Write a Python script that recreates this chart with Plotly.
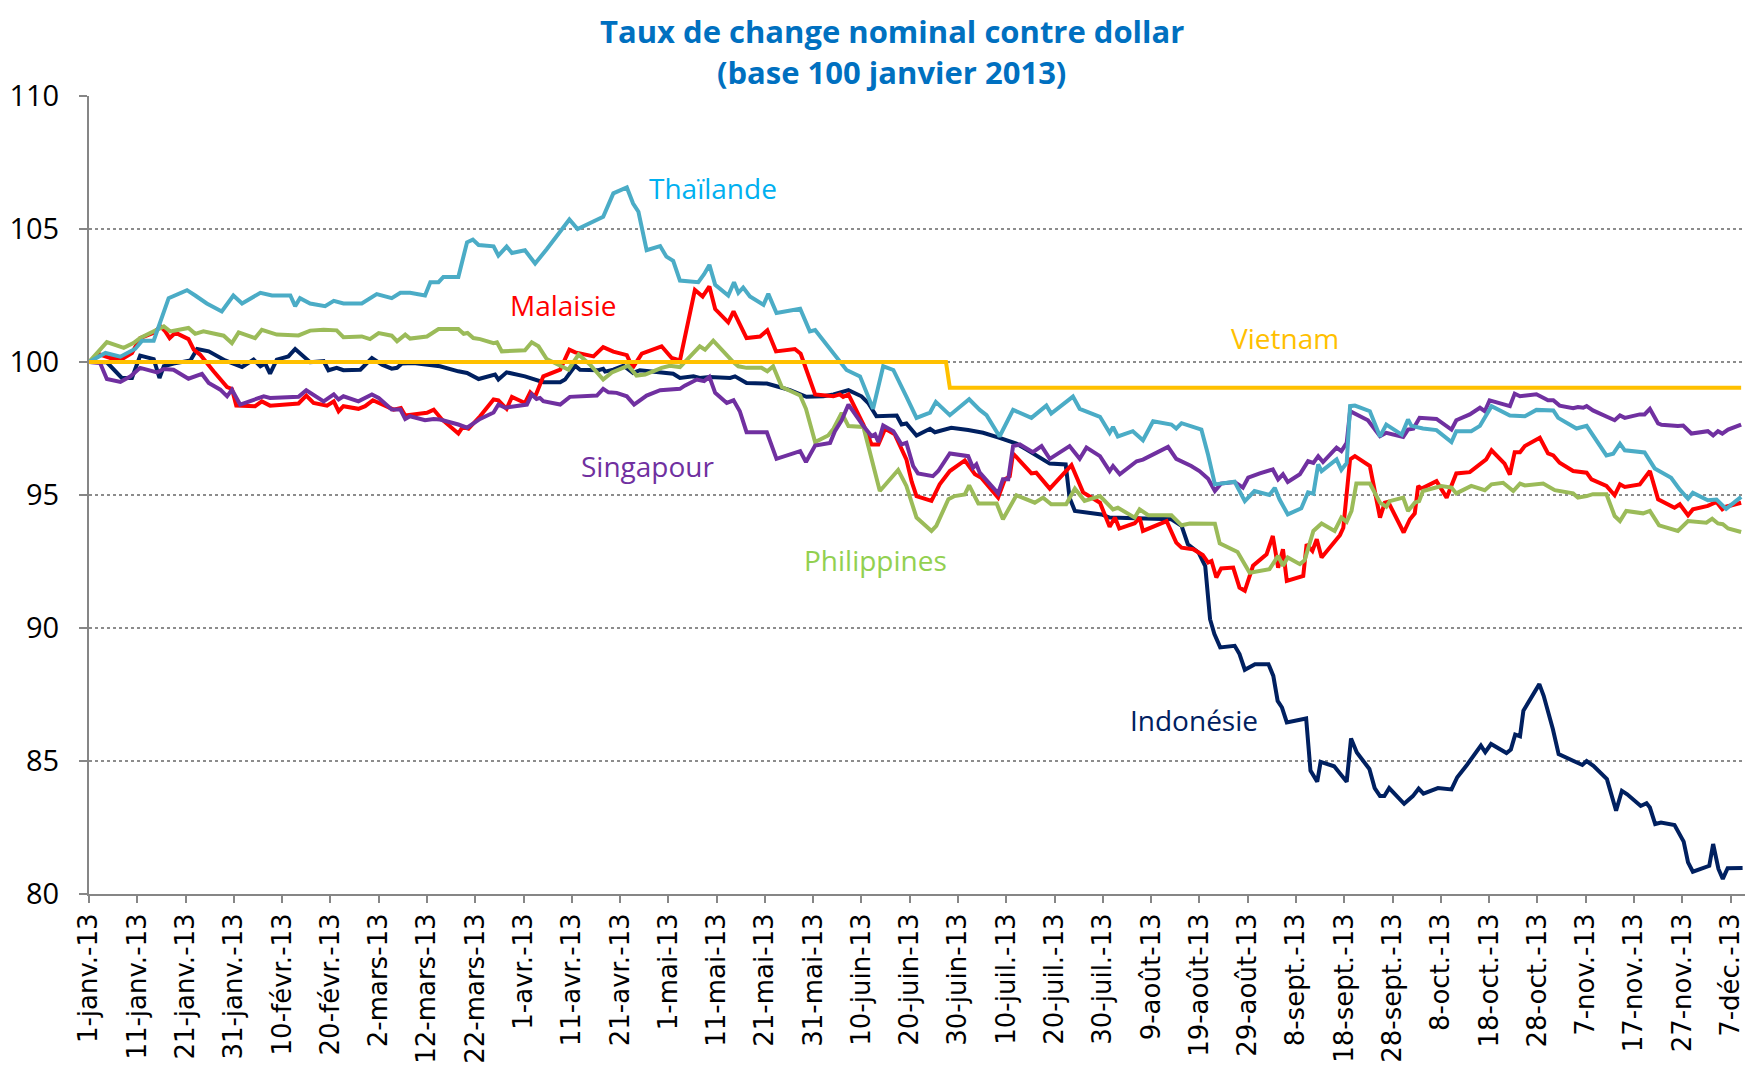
import pandas as pd
import plotly.graph_objects as go

START = pd.Timestamp("2013-01-01")

tick_labels = ["1-janv.-13", "11-janv.-13", "21-janv.-13", "31-janv.-13", "10-févr.-13",
               "20-févr.-13", "2-mars-13", "12-mars-13", "22-mars-13", "1-avr.-13",
               "11-avr.-13", "21-avr.-13", "1-mai-13", "11-mai-13", "21-mai-13",
               "31-mai-13", "10-juin-13", "20-juin-13", "30-juin-13", "10-juil.-13",
               "20-juil.-13", "30-juil.-13", "9-août-13", "19-août-13", "29-août-13",
               "8-sept.-13", "18-sept.-13", "28-sept.-13", "8-oct.-13", "18-oct.-13",
               "28-oct.-13", "7-nov.-13", "17-nov.-13", "27-nov.-13", "7-déc.-13"]

# ---- data: day offset from 1 Jan 2013, index value (base 100) ----
thai_days = [0, 3.4, 6.5, 9.6, 11, 13.4, 16.5, 20.3, 22, 24.4, 27.5, 29.9, 31.7, 35.5, 37.9,
             41.7, 42.7, 43.7, 45.8, 48.9, 50.7, 52.7, 56.5, 59.6, 62.7, 64.5, 66.5, 69.6,
             70.7, 72.4, 73.4, 76.5, 78.3, 79.5, 80.7, 83.8, 84.8, 86.5, 87.6, 90.3, 92.4,
             94.8, 99.5, 101.2, 106.5, 108.6, 111.4, 112.7, 113.8, 115.5, 118.3, 119.6, 121,
             122.4, 126.2, 127.4, 128.5, 129.7, 132.4, 133.6, 134.5, 135.5, 136.9, 139.7,
             140.7, 142.4, 147.3, 149.3, 150.4, 154.2, 156.9, 159.7, 162.4, 164.5, 166.6,
             169.3, 171.4, 174.2, 175.4, 178.3, 182.3, 184.5, 185.9, 188.6, 191.4, 195.2,
             198.3, 199.3, 203.8, 205.2, 209.4, 211.4, 212.1, 213.1, 216.2, 218.3, 220.4,
             224.2, 225.2, 226.3, 230.4, 231.8, 233.2, 237.3, 239.4, 241.4, 244.5, 245.6,
             246.6, 248.3, 251.1, 252.5, 253.6, 254.6, 255.3, 258.4, 259.4, 260.5, 261.2,
             262.2, 265.3, 267.4, 268.7, 271.9, 273.2, 273.9, 276.3, 279.1, 282.2, 283.2,
             286.3, 288.1, 290.5, 294.3, 297.4, 299.8, 303.3, 304.3, 308.1, 310.2, 314.3,
             315.7, 317.1, 318.1, 322.2, 324.3, 327.7, 329.5, 331.2, 332.2, 335.3, 337.1,
             339.1, 342.2]
thai_vals = [100, 100.34, 100.2, 100.5, 100.8, 100.8, 102.4, 102.7, 102.5, 102.2, 101.9, 102.5,
             102.2, 102.6, 102.5, 102.5, 102.1, 102.4, 102.2, 102.1, 102.3, 102.2, 102.2,
             102.55, 102.4, 102.6, 102.6, 102.5, 103.0, 103.0, 103.2, 103.2, 104.5, 104.6,
             104.4, 104.35, 104.0, 104.34, 104.1, 104.2, 103.7, 104.24, 105.36, 105.0, 105.46,
             106.34, 106.56, 105.96, 105.65, 104.2, 104.36, 103.96, 103.8, 103.06, 103.0,
             103.3, 103.65, 102.9, 102.5, 103.0, 102.6, 102.8, 102.46, 102.15, 102.56,
             101.84, 102.0, 101.15, 101.2, 100.34, 99.7, 99.46, 98.24, 99.84, 99.7, 98.7,
             97.9, 98.1, 98.5, 98.0, 98.6, 98.2, 98.0, 97.2, 98.2, 97.9, 98.36, 98.06, 98.7,
             98.24, 97.94, 97.34, 97.56, 97.2, 97.4, 97.06, 97.77, 97.65, 97.5, 97.7, 97.46,
             96.5, 95.4, 95.5, 94.77, 95.15, 95.0, 95.27, 94.83, 94.27, 94.5, 95.1, 95.05,
             96.15, 95.9, 96.34, 95.94, 96.2, 98.34, 98.36, 98.15, 97.2, 97.65, 97.27, 97.84,
             97.6, 97.5, 97.44, 96.99, 97.4, 97.4, 97.6, 98.34, 97.99, 97.96, 98.2, 98.18,
             97.9, 97.5, 97.6, 96.49, 96.55, 96.93, 96.68, 96.6, 96.0, 95.65, 95.2, 94.86,
             95.08, 94.8, 94.83, 94.48, 94.93]

malay_days = [0, 2, 4.4, 7.2, 8.9, 10.6, 13.4, 14.8, 15.8, 16.7, 17.9, 19.2, 20.6, 21.7, 23,
              25.8, 28.6, 29.6, 30.5, 34.4, 35.8, 37.5, 43.4, 45, 46.5, 49.3, 50.7, 51.7, 52.7,
              55.8, 57.2, 58.8, 63.1, 64.6, 65.5, 70, 71.4, 73.1, 76.5, 77.4, 78.6, 81, 83.8,
              84.8, 86.5, 87.6, 90.3, 91.4, 92.4, 94.1, 97.6, 99.5, 100.7, 104.5, 106.5, 108.6,
              111.4, 112.6, 114.5, 118.6, 120.7, 122.4, 125.5, 127.1, 128.5, 129.7, 132.4,
              133.5, 136.2, 139, 140.5, 142.3, 146.2, 147.4, 149, 150.4, 154.2, 155.5, 156.2,
              157.3, 160.4, 162.1, 163.5, 164.9, 166.9, 168.3, 169.3, 170.4, 171.4, 174.5,
              176.2, 178.3, 181.4, 183.5, 184.8, 188.3, 189.7, 190.7, 191.4, 195.2, 196.2, 199,
              203.5, 205.9, 209.4, 211.4, 212.5, 213.4, 216.6, 217.6, 218.3, 223.2, 225.2,
              226.3, 228.7, 230.7, 231.8, 232.5, 233.5, 234.5, 237, 238.3, 239.4, 241.1, 243.9,
              245.2, 246.3, 247.3, 248.1, 251.5, 252.2, 253.4, 254.3, 255.3, 259.1, 259.8,
              261.2, 262.2, 265.3, 267.4, 268.4, 269.1, 272.3, 273.6, 274.6, 275.3, 276, 279.1,
              281.2, 283.2, 286, 289.4, 290.5, 293.2, 294.3, 295.3, 296.4, 297.4, 300.5, 302.2,
              303.3, 304.6, 307.4, 310.2, 311.2, 314.3, 316, 317.1, 318.1, 321.2, 323.3, 325,
              325.7, 328.4, 329.5, 331.2, 332.2, 335.3, 337.1, 338.3, 339.1, 342.2]
malay_vals = [100, 100.3, 100.15, 100.15, 100.34, 100.9, 101.1, 101.34, 101.15, 100.9, 101.1,
              101.0, 100.86, 100.46, 100.28, 99.65, 99.06, 98.99, 98.36, 98.34, 98.52, 98.36,
              98.44, 98.74, 98.46, 98.36, 98.52, 98.15, 98.34, 98.24, 98.34, 98.56, 98.21,
              98.27, 97.99, 98.09, 98.21, 97.84, 97.31, 97.56, 97.49, 97.96, 98.59, 98.56,
              98.24, 98.69, 98.46, 98.86, 98.69, 99.46, 99.71, 100.46, 100.36, 100.21, 100.56,
              100.39, 100.26, 99.78, 100.31, 100.59, 100.15, 100.06, 102.71, 102.46, 102.84,
              101.99, 101.49, 101.9, 100.9, 100.96, 101.19, 100.4, 100.49, 100.31, 99.46,
              98.78, 98.71, 98.78, 98.69, 98.78, 97.65, 96.9, 96.9, 97.49, 97.28, 96.7, 96.34,
              95.5, 94.96, 94.78, 95.4, 95.9, 96.3, 95.78, 95.65, 94.9, 95.59, 95.7, 96.56,
              95.81, 95.84, 95.24, 96.12, 95.1, 94.71, 93.81, 94.15, 93.74, 93.94, 94.15,
              93.65, 94.02, 93.21, 93.02, 92.96, 92.74, 92.46, 92.52, 91.9, 92.24, 92.27,
              91.52, 91.4, 92.34, 92.77, 93.46, 92.27, 92.96, 91.77, 91.96, 93.15, 92.9, 93.34,
              92.65, 93.49, 93.77, 96.34, 96.46, 96.09, 94.15, 94.71, 94.74, 93.59, 94.09,
              94.31, 95.34, 95.24, 95.52, 94.9, 95.81, 95.86, 96.34, 96.68, 96.18, 95.77,
              96.61, 96.61, 96.84, 97.15, 96.56, 96.49, 96.21, 95.9, 95.84, 95.59, 95.34,
              94.99, 95.4, 95.3, 95.4, 95.9, 94.84, 94.78, 94.52, 94.65, 94.24, 94.46, 94.59,
              94.74, 94.46, 94.56, 94.71]

phil_days = [0, 3.7, 7.2, 9.2, 10.6, 14.1, 15.5, 16.8, 20.6, 22, 23.7, 27.9, 29.6, 31, 34.4,
             35.8, 38.9, 43.4, 45.8, 48.6, 51.3, 52.7, 56.5, 58.2, 60, 62.7, 63.8, 65.5, 66.5,
             70, 72.4, 76.5, 77.6, 78.4, 79.6, 81, 83.8, 84.5, 85.5, 90.3, 91.7, 93.1, 94.8,
             99.3, 101.4, 103.8, 106.5, 108.3, 111.7, 113.4, 115.2, 118.6, 120.3, 122.4, 126.5,
             127.6, 129.3, 133.5, 134.5, 136.2, 139.3, 140.5, 141.7, 143.5, 147.3, 148.5,
             150.4, 153.1, 154.2, 155.9, 157.3, 160.4, 162.1, 163.8, 167.6, 169.3, 171.4,
             174.5, 175.5, 178, 179.3, 181.4, 182.3, 184.2, 188, 189.3, 192.1, 195.9, 197.6,
             199.3, 202.4, 204.2, 206.2, 209.4, 212.1, 213.1, 216.6, 217.6, 219.4, 224.2,
             226.3, 228, 233.2, 234.2, 237.9, 240.4, 244.5, 246.3, 247.3, 248.3, 250.8, 251.8,
             253.6, 255.3, 258, 259.4, 260.5, 261.5, 262.5, 265.3, 267.4, 268.7, 269.4, 272.2,
             273.2, 274.6, 275.5, 276.3, 280.1, 282.2, 283.2, 286.3, 289.1, 290.5, 292.9, 295,
             296.4, 297.4, 301.2, 303.6, 307.4, 308.4, 310.2, 311.5, 314.3, 316, 317.1, 318.4,
             321.9, 323.3, 325.2, 329.1, 331.2, 335, 336.2, 337.4, 338.4, 339.5, 342.2]
phil_vals = [100, 100.75, 100.53, 100.71, 100.9, 101.21, 101.34, 101.15, 101.28, 101.06, 101.15,
             100.99, 100.71, 101.11, 100.9, 101.21, 101.03, 101.0, 101.18, 101.21, 101.19,
             100.93, 100.96, 100.86, 101.09, 100.99, 100.78, 101.03, 100.88, 100.96, 101.24,
             101.24, 101.06, 101.09, 100.9, 100.86, 100.71, 100.74, 100.4, 100.44, 100.74,
             100.59, 100.11, 99.71, 100.28, 99.9, 99.34, 99.61, 99.86, 99.49, 99.53, 99.78,
             99.86, 99.81, 100.59, 100.46, 100.8, 99.99, 99.84, 99.78, 99.78, 99.65, 99.84,
             99.06, 98.74, 98.24, 96.99, 97.24, 97.49, 98.09, 97.59, 97.56, 96.28, 95.15,
             95.94, 95.34, 94.15, 93.65, 93.84, 94.84, 94.96, 95.02, 95.36, 94.68, 94.68,
             94.09, 94.99, 94.71, 94.9, 94.65, 94.65, 95.24, 94.78, 94.96, 94.46, 94.52,
             94.15, 94.46, 94.24, 94.24, 93.86, 93.93, 93.92, 93.18, 92.86, 92.08, 92.21,
             92.71, 92.34, 92.65, 92.4, 92.55, 93.65, 93.93, 93.65, 94.15, 93.99, 94.4, 95.43,
             95.43, 94.71, 94.56, 94.77, 94.9, 94.4, 94.71, 94.77, 95.15, 95.34, 95.28, 95.06,
             95.34, 95.18, 95.4, 95.46, 95.15, 95.43, 95.36, 95.43, 95.18, 95.06, 94.9, 94.96,
             95.03, 95.03, 94.21, 94.02, 94.4, 94.31, 94.4, 93.86, 93.65, 94.02, 93.96, 94.11,
             93.93, 93.9, 93.74, 93.61]

sing_days = [0, 2.3, 3.7, 6.5, 8.6, 10.6, 14.1, 15.5, 17.5, 20.6, 23.4, 24.8, 27.2, 28.6, 29.6,
             31.3, 36.2, 37.5, 43.4, 45, 48.6, 50.7, 51.7, 52.7, 55.8, 58.6, 60, 62.7, 64.5,
             65.5, 66.5, 69.6, 71.4, 72.7, 76.5, 78.3, 81, 83.8, 84.8, 86.2, 90.7, 91.7, 92.7,
             93.4, 94.1, 97.6, 99.6, 105.2, 106.5, 107.6, 109.3, 111.4, 112.9, 115.5, 118.3,
             122.4, 123.4, 125.9, 127.4, 128.5, 129.7, 132.1, 133.5, 134.8, 136.2, 140.4,
             142.4, 147.3, 148.5, 150.4, 153.5, 154.5, 155.9, 157.3, 160.4, 162.1, 162.8,
             163.5, 164.5, 166.6, 168.3, 169.3, 170.7, 171.7, 174.8, 175.9, 178.3, 182.1,
             183.1, 183.8, 184.5, 186.2, 188.3, 189.3, 190.4, 191.4, 192.8, 195.5, 197.3, 199,
             203.1, 205.2, 206.6, 209.4, 211.4, 212.1, 213.5, 217, 218.3, 223.5, 225.2, 228.3,
             230, 231.8, 233.2, 234.5, 237.3, 239, 240.1, 242.5, 245.2, 246.3, 247.3, 248.3,
             250.8, 252.5, 253.6, 254.6, 255.6, 258.4, 259.4, 260.5, 261.2, 264.9, 267.4,
             268.7, 272.2, 273.2, 274.3, 275.6, 279.1, 282.2, 283.2, 286, 288.1, 289.1, 290.1,
             294.3, 295.3, 296.4, 299.8, 302.2, 303.3, 304.6, 307.4, 308.4, 309.5, 310.2,
             311.5, 316, 317.1, 318.1, 321.2, 322.2, 323.3, 325, 325.7, 329.1, 330.2, 331.9,
             335.3, 336.4, 337.4, 338.3, 339.5, 342.2]
sing_vals = [100, 99.96, 99.36, 99.25, 99.46, 99.78, 99.61, 99.74, 99.71, 99.37, 99.55, 99.21,
             98.96, 98.71, 98.96, 98.4, 98.71, 98.65, 98.69, 98.94, 98.52, 98.78, 98.59, 98.71,
             98.52, 98.78, 98.65, 98.21, 98.21, 97.86, 97.96, 97.81, 97.86, 97.84, 97.65,
             97.53, 97.86, 98.1, 98.4, 98.28, 98.4, 98.78, 98.61, 98.65, 98.53, 98.4, 98.69,
             98.74, 98.99, 98.86, 98.84, 98.71, 98.4, 98.74, 98.94, 98.99, 99.11, 99.34, 99.28,
             99.44, 98.84, 98.46, 98.56, 98.15, 97.36, 97.36, 96.36, 96.65, 96.24, 96.86,
             96.96, 97.4, 97.81, 98.4, 97.59, 97.21, 97.28, 96.99, 97.61, 97.4, 96.9, 96.96,
             96.09, 95.81, 95.71, 95.9, 96.56, 96.46, 96.02, 96.15, 95.84, 95.49, 95.06, 95.59,
             95.59, 96.84, 96.9, 96.61, 96.84, 96.36, 96.84, 96.36, 96.78, 96.46, 95.9, 96.09,
             95.78, 96.27, 96.33, 96.81, 96.36, 96.09, 95.9, 95.61, 95.15, 95.43, 95.49, 95.28,
             95.65, 95.81, 95.96, 95.59, 95.78, 95.49, 95.78, 96.27, 96.21, 96.46, 96.24,
             96.78, 96.65, 96.96, 98.15, 97.81, 97.21, 97.34, 97.18, 97.46, 97.49, 97.9, 97.86,
             97.46, 97.81, 98.03, 98.28, 98.15, 98.56, 98.34, 98.81, 98.71, 98.79, 98.56,
             98.56, 98.36, 98.26, 98.31, 98.28, 98.34, 98.18, 97.81, 97.99, 97.9, 98.03, 98.03,
             98.24, 97.69, 97.64, 97.59, 97.61, 97.31, 97.4, 97.24, 97.4, 97.31, 97.46, 97.65]

indo_days = [0, 3.7, 6.8, 8.9, 10.6, 13.4, 14.6, 15.5, 17.5, 21, 22.4, 24.8, 28.2, 31.7, 34.1,
             35.5, 36.5, 37.5, 38.9, 41.3, 42.7, 43.7, 45.8, 48.6, 49.6, 51.3, 52.7, 56.2, 58.6,
             60.7, 62.7, 63.8, 64.8, 67.2, 70, 72.7, 76.5, 78.3, 80.7, 84.1, 84.8, 86.5, 90.3,
             94.1, 97.6, 98.6, 100.7, 101.7, 105.5, 106.5, 106.9, 108.6, 110.7, 112.7, 114.1,
             119.3, 121, 122.4, 125.2, 126.5, 128.6, 132.8, 133.8, 136.2, 140.4, 142.4, 145.2,
             148.6, 152.1, 154.2, 157.3, 160, 161.4, 163.1, 167.3, 168.3, 169.3, 171.4, 174.2,
             175.2, 178.6, 182.1, 185.2, 188.6, 192.1, 194.2, 197.6, 199, 202.3, 203.1, 204.2,
             209.7, 211.4, 216.9, 224.2, 226.3, 227.6, 229.8, 231.2, 232.2, 233.1, 234.3,
             237.3, 238.3, 239.4, 241.5, 244.3, 245.3, 246.2, 247.1, 248.1, 252.1, 253, 254.4,
             255.1, 257.9, 259.1, 260.5, 261.4, 262.6, 265.2, 266.3, 267.4, 268.3, 269.3,
             272.4, 274.2, 275.4, 276.4, 279.4, 282.2, 283.4, 285.4, 288.3, 289.2, 290.4,
             293.6, 294.5, 295.4, 296.4, 297.1, 300.4, 301.3, 303.2, 304.4, 306.9, 309.3,
             310.2, 311.6, 314.4, 316.3, 317.5, 318.6, 321.4, 322.6, 323.3, 324.4, 325.6,
             328.4, 330.3, 331.2, 332.2, 335.6, 336.4, 337.5, 338.4, 339.4, 342.5]
indo_vals = [100, 99.99, 99.4, 99.4, 100.24, 100.11, 99.4, 99.84, 99.94, 100.06, 100.49, 100.4,
             100.06, 99.81, 100.09, 99.84, 99.94, 99.56, 100.09, 100.21, 100.49, 100.34, 99.99,
             100.03, 99.69, 99.78, 99.69, 99.71, 100.15, 99.9, 99.75, 99.78, 99.94, 99.96,
             99.9, 99.84, 99.65, 99.59, 99.36, 99.53, 99.34, 99.61, 99.46, 99.24, 99.24, 99.34,
             99.86, 99.71, 99.69, 99.74, 99.64, 99.71, 99.86, 99.59, 99.69, 99.61, 99.56, 99.4,
             99.46, 99.4, 99.44, 99.4, 99.46, 99.21, 99.19, 99.09, 98.94, 98.69, 98.71, 98.78,
             98.94, 98.71, 98.46, 97.96, 97.99, 97.65, 97.69, 97.24, 97.49, 97.36, 97.53,
             97.44, 97.34, 97.15, 96.93, 96.71, 96.36, 96.18, 96.15, 94.9, 94.4, 94.27, 94.15,
             94.11, 94.09, 93.84, 93.15, 92.84, 92.33, 90.33, 89.77, 89.27, 89.33, 89.02,
             88.43, 88.64, 88.64, 88.2, 87.26, 87.01, 86.45, 86.6, 84.64, 84.22, 84.97, 84.8,
             84.55, 84.22, 85.85, 85.32, 84.7, 83.98, 83.68, 83.68, 83.98, 83.39, 83.68, 83.96,
             83.77, 83.98, 83.93, 84.39, 84.85, 85.58, 85.33, 85.64, 85.3, 85.43, 85.99, 85.93,
             86.89, 87.89, 87.45, 86.2, 85.26, 85.07, 84.85, 85.0, 84.82, 84.32, 83.13, 83.88,
             83.75, 83.31, 83.41, 83.25, 82.63, 82.69, 82.59, 81.97, 81.19, 80.84, 81.06,
             81.88, 80.94, 80.57, 80.97, 80.98]

viet_days = [0, 177.5, 178.3, 342.2]
viet_vals = [100, 100, 99.03, 99.03]


def to_dates(days):
    return START + pd.to_timedelta(days, unit="D")


series = [
    ("Indonésie", indo_days, indo_vals, "#002060"),
    ("Malaisie", malay_days, malay_vals, "#FF0000"),
    ("Philippines", phil_days, phil_vals, "#9BBB59"),
    ("Singapour", sing_days, sing_vals, "#7030A0"),
    ("Thaïlande", thai_days, thai_vals, "#4BACC6"),
    ("Vietnam", viet_days, viet_vals, "#FFC000"),
]

fig = go.Figure()
for name, d, v, c in series:
    fig.add_trace(go.Scatter(x=to_dates(d), y=v, mode="lines", name=name,
                             line=dict(color=c, width=4), hoverinfo="skip"))

label_font = "Open Sans"
labels = [
    ("Thaïlande", 129.3, 106.55, "#00B0F0"),
    ("Malaisie", 98.2, 102.15, "#FF0000"),
    ("Vietnam", 247.7, 100.92, "#FFC000"),
    ("Singapour", 115.8, 96.08, "#7030A0"),
    ("Philippines", 163.0, 92.55, "#92D050"),
    ("Indonésie", 228.8, 86.54, "#002060"),
]
for text, d, v, c in labels:
    fig.add_annotation(x=to_dates([d])[0], y=v, text=text, showarrow=False,
                       font=dict(family=label_font, size=28, color=c),
                       xanchor="center", yanchor="middle")

fig.add_annotation(x=0.4848, y=1.109, xref="paper", yref="paper", showarrow=False,
                   text="<b>Taux de change nominal contre dollar</b>",
                   font=dict(family=label_font, size=31, color="#0070C0"),
                   xanchor="center", yanchor="top", borderpad=0)
fig.add_annotation(x=0.4848, y=1.030, xref="paper", yref="paper", showarrow=False,
                   text="<b>(base 100 janvier 2013)</b>",
                   font=dict(family=label_font, size=31, color="#0070C0"),
                   xanchor="center", yanchor="middle")

tick_vals = [START + pd.Timedelta(days=10 * i) for i in range(len(tick_labels))]

# the page body adds an 8px offset, compensated in the margins
fig.update_layout(
    width=1757, height=1065,
    margin=dict(l=81, r=20, t=88, b=179, autoexpand=False),
    paper_bgcolor="white", plot_bgcolor="white",
    showlegend=False,
    xaxis=dict(
        type="date", automargin=False,
        range=[START, START + pd.Timedelta(days=343)],
        tickmode="array", tickvals=tick_vals, ticktext=tick_labels,
        tickangle=-90,
        tickfont=dict(family="DejaVu Sans", size=26, color="black"),
        showgrid=False, zeroline=False,
        showline=True, linecolor="#868686", linewidth=2,
        ticks="outside", ticklen=7, tickcolor="#868686", tickwidth=1.5,
    ),
    yaxis=dict(
        range=[80, 110], tick0=80, dtick=5, automargin=False,
        tickfont=dict(family=label_font, size=29, color="black"),
        showgrid=True, gridcolor="#8C8C8C", griddash="dot", gridwidth=1.5,
        zeroline=False,
        showline=True, linecolor="#868686", linewidth=2,
        ticks="outside", ticklen=8, tickcolor="#868686", tickwidth=1.5,
        ticklabelstandoff=14,
    ),
)

fig.write_html("out.html")
